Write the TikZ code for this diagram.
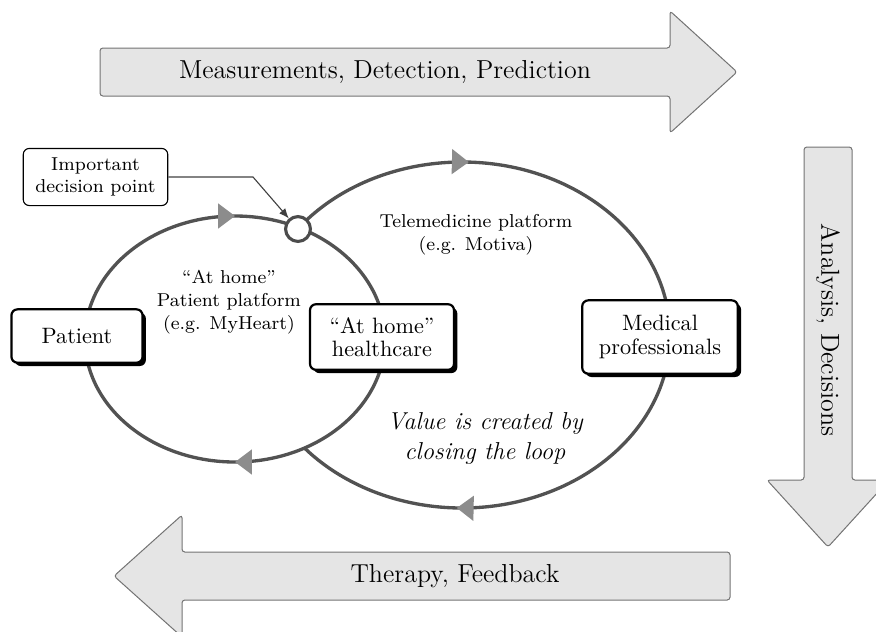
\documentclass[tikz,border=0pt]{standalone}
\usetikzlibrary{arrows.meta,shadows,decorations.markings}
\begin{document}
\begin{tikzpicture}[x=0.45pt,y=-0.45pt,
  bigarrow/.style={draw=black!55, line width=0.45pt, fill=black!10, rounded corners=1.3pt},
  arrowtext/.style={font=\fontsize{11.7}{14}\selectfont},
  actor/.style={draw=black, line width=1pt, fill=white, rounded corners=2.7pt,
    align=center, inner sep=0pt, font=\fontsize{10}{10.5}\selectfont,
    drop shadow={shadow xshift=1.5pt, shadow yshift=-1.5pt, opacity=1, fill=black}},
  flowtip/.tip={Triangle[length=7.6pt,width=11pt,color=black!45]},
  flowloop/.style 2 args={draw=black!68, line width=1.5pt, postaction={decorate},
    decoration={markings,
      mark=at position #1 with {\arrow{flowtip}},
      mark=at position #2 with {\arrow{flowtip}}}},
  smalltext/.style={align=center, font=\fontsize{8.4}{10.3}\selectfont},
  notebox/.style={draw=black, line width=0.5pt, fill=white, rounded corners=2.7pt,
    align=center, inner sep=0pt, font=\fontsize{8.4}{10}\selectfont},
  callout/.style={draw=black!75, line width=0.5pt, -{Latex[length=4.5pt,width=3.6pt]}},
  decision/.style={circle, draw=black!70, line width=1.4pt, fill=white,
    minimum size=11.2pt, inner sep=0pt}
]
\useasboundingbox (0,0) rectangle (876,631);
\clip (0,0) rectangle (876,631);

% Big process arrows around the loops
\draw[bigarrow] (100,48) -- (670,48) -- (670,11) -- (737,72) -- (670,133)
  -- (670,96) -- (100,96) -- cycle;
\node[arrowtext] (measure) at (385,72) {Measurements, Detection, Prediction};

\draw[bigarrow] (804,147) -- (852,147) -- (852,480) -- (889,480) -- (828,547)
  -- (767,480) -- (804,480) -- cycle;
\node[arrowtext, rotate=-90] (analysis) at (828,330) {Analysis, Decisions};

\draw[bigarrow] (730,552) -- (730,600) -- (182,600) -- (182,637) -- (114,576)
  -- (182,515) -- (182,552) -- cycle;
\node[arrowtext] (therapy) at (455,576) {Therapy, Feedback};

% Patient loop: a full ellipse, running clockwise
\path[flowloop={0.25}{0.75}] (235,339) ellipse [x radius=150, y radius=123];
% Telemedicine loop: only the part outside the patient loop
\path[flowloop={0.198}{0.825}] ([shift={(462,335)}]217.9:208 and 173)
  arc [start angle=217.9, end angle=499.1, x radius=208, y radius=173];

% Loop labels
\node[smalltext] (homeplat) at (229,302) {``At home''\\Patient platform\\(e.g. MyHeart)};
\node[smalltext] (teleplat) at (476,235) {Telemedicine platform\\(e.g. Motiva)};
\node[align=center, font=\fontsize{11}{13.5}\selectfont\itshape] (value) at (485,438)
  {Value is created by\\closing the loop};

% Actors
\node[actor, minimum width=59pt, minimum height=24pt] (patient) at (77,336) {Patient};
\node[actor, minimum width=64.8pt, minimum height=29.5pt] (home) at (382,337) {``At home''\\healthcare};
\node[actor, minimum width=70pt, minimum height=33pt] (medical) at (660,337) {Medical\\professionals};

% Decision point and its note
\node[decision] (dp) at (298,229) {};
\node[notebox, minimum width=65pt, minimum height=25.7pt] (note) at (95.5,177) {Important\\decision point};
\coordinate (kink) at (253,177);
\draw[callout] (note.east) -- (kink) -- (dp);
\end{tikzpicture}
\end{document}
